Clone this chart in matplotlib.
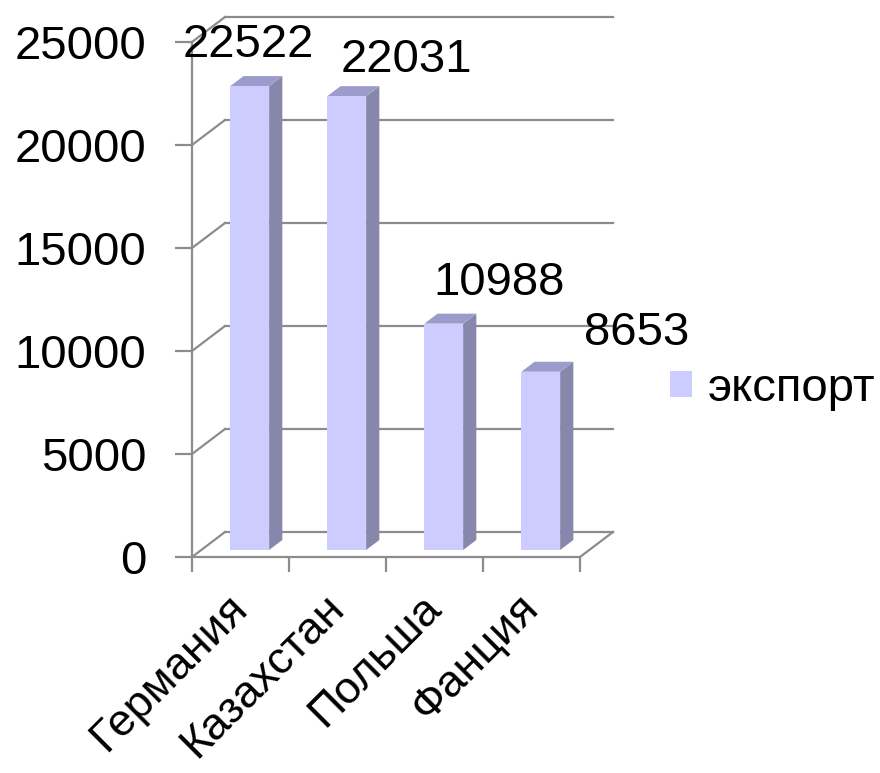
import matplotlib
matplotlib.use("Agg")
import matplotlib.pyplot as plt
from matplotlib.patches import Polygon, Rectangle, Patch

plt.rcParams['font.family'] = ['Liberation Sans', 'DejaVu Sans']

# ---- data ----
categories = ["Германия", "Казахстан", "Польша", "Фанция"]
values = [22522, 22031, 10988, 8653]
series_name = "экспорт"
yticks = [0, 5000, 10000, 15000, 20000, 25000]
ymax = 25000

# ---- style ----
FRONT = "#CCCCFF"
SIDE = "#8787AC"
TOP = "#9C9CCC"
GRID = "#8C8C8C"
FS = 34
FS_CAT = 32.5
# label offsets in pixels (dx, dy) relative to bar front top centre
label_offsets = [(-1, 41), (60, 36), (55, 41), (96, 39)]

W, H = 880, 773
fig = plt.figure(figsize=(W / 100, H / 100), dpi=100)
ax_left, ax_bottom, ax_w, ax_h = 192, 557, 388, 515
ax = fig.add_axes([ax_left / W, (H - ax_bottom) / H, ax_w / W, ax_h / H])
n = len(categories)
ax.set_xlim(0, n)
ax.set_ylim(0, ymax)

px_x = ax_w / n          # pixels per category unit
px_y = ax_h / ymax       # pixels per value unit
# depth vector (back wall offset) in data units
ddx = 33 / px_x
ddy = 25 / px_y

for s in ["top", "right"]:
    ax.spines[s].set_visible(False)
for s in ["left", "bottom"]:
    ax.spines[s].set_color(GRID)
    ax.spines[s].set_linewidth(1.6)

ax.set_yticks(yticks)
ax.set_yticklabels([str(t) for t in yticks], fontsize=FS)
ax.set_xticks(range(n + 1))
ax.set_xticklabels([""] * (n + 1))
ax.tick_params(axis="y", length=12, width=1.6, color=GRID, pad=21)
ax.tick_params(axis="x", length=11, width=1.6, color=GRID)

# back wall gridlines and diagonals
for t in yticks:
    ax.plot([ddx, n + ddx], [t + ddy, t + ddy], color=GRID, lw=1.6,
            clip_on=False, zorder=1)
    ax.plot([0, ddx], [t, t + ddy], color=GRID, lw=1.6, clip_on=False, zorder=1)
# floor right edge
ax.plot([n, n + ddx], [0, ddy], color=GRID, lw=1.6, clip_on=False, zorder=1)

# bars
f0 = 0.28   # depth fraction of bar front
d = 0.40    # bar depth fraction
bw = 0.40   # bar width
for i, v in enumerate(values):
    c = i + 0.5 + f0 * ddx
    xl, xr = c - bw / 2, c + bw / 2
    y0 = f0 * ddy
    ox, oy = d * ddx, d * ddy
    front = Rectangle((xl, y0), bw, v, facecolor=FRONT, edgecolor="none",
                      clip_on=False, zorder=3)
    side = Polygon([(xr, y0), (xr + ox, y0 + oy), (xr + ox, y0 + v + oy),
                    (xr, y0 + v)], closed=True, facecolor=SIDE,
                   edgecolor="none", clip_on=False, zorder=3)
    top = Polygon([(xl, y0 + v), (xr, y0 + v), (xr + ox, y0 + v + oy),
                   (xl + ox, y0 + v + oy)], closed=True, facecolor=TOP,
                  edgecolor="none", clip_on=False, zorder=3)
    ax.add_patch(side)
    ax.add_patch(top)
    ax.add_patch(front)
    dx, dy = label_offsets[i]
    ax.annotate(str(v), (c, y0 + v), xytext=(dx, dy), textcoords="offset pixels",
                ha="center", va="center", fontsize=FS, zorder=5,
                annotation_clip=False)

# category labels
for i, name in enumerate(categories):
    ax.annotate(name, (i + 0.5, 0), xytext=(-14, -30), textcoords="offset pixels",
                rotation=45, ha="right", va="top", rotation_mode="anchor",
                fontsize=FS_CAT, annotation_clip=False)

# legend
handle = Patch(facecolor=FRONT, edgecolor="none")
fig.legend([handle], [series_name], loc="center left",
           bbox_to_anchor=(670 / W, (H - 389) / H), bbox_transform=fig.transFigure,
           frameon=False, fontsize=FS, handlelength=0.47, handleheight=0.47,
           handletextpad=0.32, borderpad=0, borderaxespad=0)

fig.savefig("out.png", dpi=100)
